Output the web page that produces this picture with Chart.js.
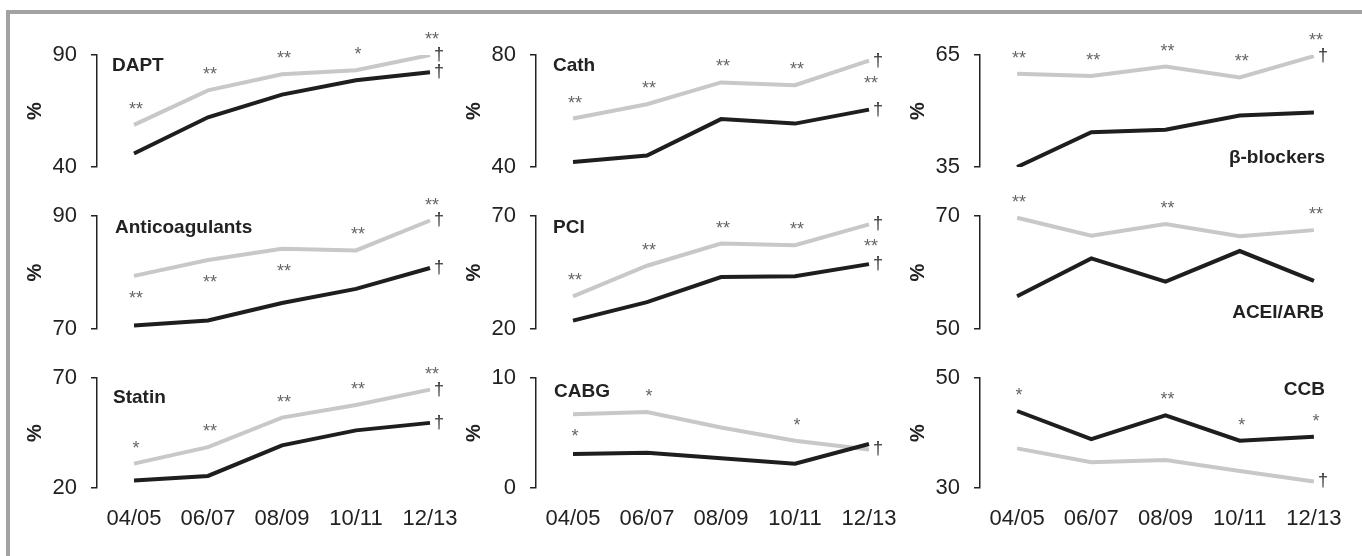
<!DOCTYPE html>
<html>
<head>
<meta charset="utf-8">
<script src="https://cdn.jsdelivr.net/npm/chart.js@4.4.1/dist/chart.umd.min.js"></script>
<style>
  html, body { margin: 0; padding: 0; background: #fff; width: 1362px; height: 556px; overflow: hidden; }
  #frame { position: absolute; left: 6px; top: 10px; right: 0; bottom: 0;
           border-left: 4px solid #a2a2a2; border-top: 4px solid #a2a2a2; }
  canvas { position: absolute; }
</style>
</head>
<body>
<div id="frame"></div>
<script>
// Periodos (eje x)
const periods = ['04/05', '06/07', '08/09', '10/11', '12/13'];

// Series: negro = grupo 1, gris = grupo 2
const daptBlack = [46.0, 62.2, 72.3, 78.7, 82.3];
const daptGray  = [58.8, 74.2, 81.4, 83.2, 90.0];
const cathBlack = [41.8, 44.1, 57.1, 55.5, 60.5];
const cathGray  = [57.3, 62.4, 70.2, 69.2, 78.0];
const betaBlack = [35.0, 44.3, 45.0, 48.8, 49.6];
const betaGray  = [60.0, 59.4, 61.9, 59.0, 64.7];
const anticoagBlack = [70.6, 71.5, 74.6, 77.1, 80.8];
const anticoagGray  = [79.4, 82.2, 84.2, 83.9, 89.2];
const pciBlack = [23.7, 31.9, 43.0, 43.3, 48.7];
const pciGray  = [34.4, 48.0, 57.8, 57.1, 66.3];
const aceiBlack = [55.8, 62.5, 58.4, 63.8, 58.5];
const aceiGray  = [69.7, 66.5, 68.6, 66.4, 67.5];
const statinBlack = [23.4, 25.5, 39.4, 46.2, 49.6];
const statinGray  = [31.1, 38.6, 52.0, 57.7, 64.7];
const cabgBlack = [3.1, 3.2, 2.7, 2.2, 4.0];
const cabgGray  = [6.7, 6.9, 5.5, 4.3, 3.5];
const ccbBlack = [44.0, 38.9, 43.2, 38.6, 39.3];
const ccbGray  = [37.2, 34.7, 35.1, 33.1, 31.2];

// Eje y: solo min y max
const daptTicks = [40, 90];
const cathTicks = [40, 80];
const betaTicks = [35, 65];
const anticoagTicks = [70, 90];
const pciTicks = [20, 70];
const aceiTicks = [50, 70];
const statinTicks = [20, 70];
const cabgTicks = [0, 10];
const ccbTicks = [30, 50];

// Significancia
const daptStars = ['**', '**', '**', '*', '**'];
const cathStars = ['**', '**', '**', '**', '**'];
const betaStars = ['**', '**', '**', '**', '**'];
const anticoagStars = ['**', '**', '**', '**', '**'];
const pciStars = ['**', '**', '**', '**', '**'];
const aceiStars = ['**', '', '**', '', '**'];
const statinStars = ['*', '**', '**', '**', '**'];
const cabgStars = ['*', '*', '', '*', ''];
const ccbStars = ['*', '', '**', '*', '*'];

const FONT = "'Liberation Sans', Arial, Helvetica, sans-serif";
Chart.defaults.font.family = FONT;
Chart.defaults.color = '#222';

// Geometria de la rejilla 3x3
const colAxisX = [97, 536, 980];
const colRight = [467, 906, 1351];
const rowTop = [55, 216, 378];
const rowBottom = [167, 329, 488];

const panels = [
  { title: 'DAPT', black: daptBlack, gray: daptGray, ticks: daptTicks, stars: daptStars,
    starPos: 'aaaaa', starRef: 'gray', daggers: ['gray', 'black'], row: 0, col: 0,
    titleAt: { align: 'left', dx: 15, vref: 'top', dy: 9 } },
  { title: 'Cath', black: cathBlack, gray: cathGray, ticks: cathTicks, stars: cathStars,
    starPos: 'aaaab', starRef: 'gray', daggers: ['gray', 'black'], row: 0, col: 1,
    titleAt: { align: 'left', dx: 17, vref: 'top', dy: 9 } },
  { title: 'β-blockers', black: betaBlack, gray: betaGray, ticks: betaTicks, stars: betaStars,
    starPos: 'aaaaa', starRef: 'gray', daggers: ['gray'], row: 0, col: 2,
    titleAt: { align: 'right', dx: -26, vref: 'bottom', dy: -11 } },
  { title: 'Anticoagulants', black: anticoagBlack, gray: anticoagGray, ticks: anticoagTicks, stars: anticoagStars,
    starPos: 'bbbaa', starRef: 'gray', daggers: ['gray', 'black'], row: 1, col: 0,
    titleAt: { align: 'left', dx: 18, vref: 'top', dy: 10 } },
  { title: 'PCI', black: pciBlack, gray: pciGray, ticks: pciTicks, stars: pciStars,
    starPos: 'aaaab', starRef: 'gray', daggers: ['gray', 'black'], row: 1, col: 1,
    titleAt: { align: 'left', dx: 17, vref: 'top', dy: 10 } },
  { title: 'ACEI/ARB', black: aceiBlack, gray: aceiGray, ticks: aceiTicks, stars: aceiStars,
    starPos: 'aaaaa', starRef: 'gray', daggers: [], row: 1, col: 2,
    titleAt: { align: 'right', dx: -27, vref: 'bottom', dy: -18 } },
  { title: 'Statin', black: statinBlack, gray: statinGray, ticks: statinTicks, stars: statinStars,
    starPos: 'aaaaa', starRef: 'gray', daggers: ['gray', 'black'], row: 2, col: 0,
    titleAt: { align: 'left', dx: 16, vref: 'top', dy: 18 } },
  { title: 'CABG', black: cabgBlack, gray: cabgGray, ticks: cabgTicks, stars: cabgStars,
    starPos: 'baaaa', starRef: 'gray', daggers: ['gray'], row: 2, col: 1,
    titleAt: { align: 'left', dx: 18, vref: 'top', dy: 12 } },
  { title: 'CCB', black: ccbBlack, gray: ccbGray, ticks: ccbTicks, stars: ccbStars,
    starPos: 'aaaaa', starRef: 'black', daggers: ['gray'], row: 2, col: 2,
    titleAt: { align: 'right', dx: -26, vref: 'top', dy: 10 } }
];

// Asteriscos, dagas y titulo de cada panel
function annotationPlugin(p) {
  return {
    id: 'annot',
    afterDatasetsDraw(chart) {
      const ctx = chart.ctx;
      const area = chart.chartArea;
      const metaBlack = chart.getDatasetMeta(0);
      const metaGray = chart.getDatasetMeta(1);
      const ref = p.starRef === 'black' ? metaBlack : metaGray;
      ctx.save();

      ctx.fillStyle = '#666';
      ctx.font = '18px ' + FONT;
      ctx.textAlign = 'center';
      ctx.textBaseline = 'alphabetic';
      p.stars.forEach((s, i) => {
        if (!s) return;
        const pt = ref.data[i];
        const cy = p.starPos[i] === 'b' ? pt.y + 17 : pt.y - 21;
        ctx.fillText(s, pt.x + 2, cy + 11);
      });

      ctx.fillStyle = '#333';
      ctx.font = '18px ' + FONT;
      ctx.textBaseline = 'middle';
      p.daggers.forEach(d => {
        const meta = d === 'black' ? metaBlack : metaGray;
        const pt = meta.data[meta.data.length - 1];
        ctx.fillText('†', pt.x + 9, pt.y);
      });

      const t = p.titleAt;
      ctx.fillStyle = '#222';
      ctx.font = 'bold 19px ' + FONT;
      ctx.textAlign = t.align;
      ctx.textBaseline = 'alphabetic';
      const tx = t.align === 'left' ? area.left + t.dx : area.right + t.dx;
      const ty = (t.vref === 'top' ? area.top : area.bottom) + t.dy + 7;
      ctx.fillText(p.title, tx, ty);
      ctx.restore();
    }
  };
}

function createPanel(p) {
  const bottomRow = p.row === 2;
  const padBottom = bottomRow ? 12 : 30;
  const left = colAxisX[p.col] - 75;
  const top = rowTop[p.row] - 45;
  const width = colRight[p.col] + 20 - left;
  const height = rowBottom[p.row] + (bottomRow ? 40 : 0) + padBottom - top;

  const canvas = document.createElement('canvas');
  canvas.width = width;
  canvas.height = height;
  canvas.style.left = left + 'px';
  canvas.style.top = top + 'px';
  canvas.style.width = width + 'px';
  canvas.style.height = height + 'px';
  document.body.appendChild(canvas);

  return new Chart(canvas, {
    type: 'line',
    data: {
      labels: periods,
      datasets: [
        { data: p.black, borderColor: '#1e1e1e', borderWidth: 4, pointRadius: 0, tension: 0, fill: false },
        { data: p.gray, borderColor: '#c8c8c8', borderWidth: 4, pointRadius: 0, tension: 0, fill: false }
      ]
    },
    options: {
      responsive: false,
      animation: false,
      events: [],
      layout: { padding: { left: 0, top: 45, right: 20, bottom: padBottom } },
      plugins: { legend: { display: false }, tooltip: { enabled: false } },
      scales: {
        x: {
          type: 'category',
          offset: true,
          grid: { display: false, drawTicks: false },
          border: { display: false },
          ticks: { display: bottomRow, color: '#222', font: { size: 22 }, padding: 18, maxRotation: 0, autoSkip: false },
          afterFit: axis => { axis.height = bottomRow ? 40 : 0; }
        },
        y: {
          min: p.ticks[0],
          max: p.ticks[1],
          afterBuildTicks: axis => { axis.ticks = p.ticks.map(v => ({ value: v })); },
          afterFit: axis => { axis.width = 75; },
          grid: { drawOnChartArea: false, drawTicks: true, tickLength: 6, color: '#222', lineWidth: 1.5 },
          border: { display: true, color: '#222', width: 1.5 },
          ticks: { color: '#222', font: { size: 22 }, padding: 14 },
          title: { display: true, text: '%', color: '#222', font: { size: 20, weight: 'bold' }, padding: { top: 1, bottom: 0 } }
        }
      }
    },
    plugins: [annotationPlugin(p)]
  });
}

panels.forEach(createPanel);
</script>
</body>
</html>
